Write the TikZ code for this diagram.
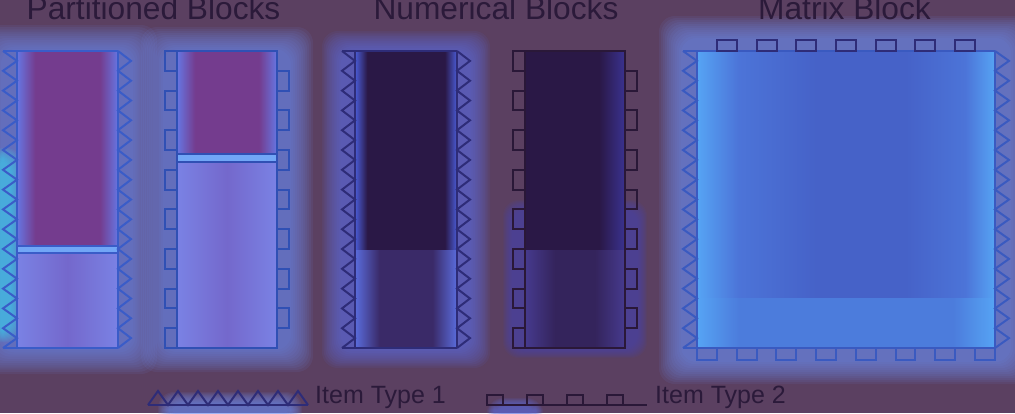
\documentclass[tikz,border=0pt]{standalone}
\usepackage{fontspec}
\setmainfont{Liberation Sans}
\definecolor{bg}{HTML}{5B4061}
\definecolor{tx}{HTML}{2B1A3A}
\definecolor{glowA}{HTML}{6E8CF0}
\definecolor{glowC}{HTML}{3FD0F0}
\definecolor{glowN}{HTML}{5A6EE0}
\definecolor{glowD}{HTML}{4A48B0}
\definecolor{glowM}{HTML}{6F90F4}
\definecolor{lineA}{HTML}{3A5CC8}
\definecolor{lineB}{HTML}{3050B4}
\definecolor{lineN}{HTML}{2E2C78}
\definecolor{lineD}{HTML}{2A1838}
\definecolor{lineM}{HTML}{3A5AC0}
\definecolor{pEdge}{HTML}{6676E2}
\definecolor{pCore}{HTML}{743C8E}
\definecolor{pLow}{HTML}{7A82E4}
\definecolor{pLowC}{HTML}{7468CC}
\definecolor{band}{HTML}{72A6F6}
\definecolor{nEdge}{HTML}{4A5CD6}
\definecolor{nCore}{HTML}{2A1846}
\definecolor{nEdgeL}{HTML}{5A6CDC}
\definecolor{nCoreL}{HTML}{3A2A68}
\definecolor{dEdge}{HTML}{3A3290}
\definecolor{dCore}{HTML}{2A1846}
\definecolor{dLow}{HTML}{463A8E}
\definecolor{dLowC}{HTML}{34245C}
\definecolor{mEdge}{HTML}{56A4F4}
\definecolor{mIn}{HTML}{4C74D8}
\definecolor{mCore}{HTML}{4662C8}
\definecolor{mLow}{HTML}{4C7CDC}
\pgfdeclarehorizontalshading{ptop}{100bp}{color(0bp)=(pEdge); color(25bp)=(pEdge); color(34bp)=(pCore); color(66bp)=(pCore); color(75bp)=(pEdge); color(100bp)=(pEdge)}
\pgfdeclarehorizontalshading{plow}{100bp}{color(0bp)=(pLow); color(25bp)=(pLow); color(50bp)=(pLowC); color(75bp)=(pLow); color(100bp)=(pLow)}
\pgfdeclarehorizontalshading{ntop}{100bp}{color(0bp)=(nEdge); color(25bp)=(nEdge); color(31bp)=(nCore); color(69bp)=(nCore); color(75bp)=(nEdge); color(100bp)=(nEdge)}
\pgfdeclarehorizontalshading{nlow}{100bp}{color(0bp)=(nEdgeL); color(25bp)=(nEdgeL); color(37bp)=(nCoreL); color(63bp)=(nCoreL); color(75bp)=(nEdgeL); color(100bp)=(nEdgeL)}
\pgfdeclarehorizontalshading{dtop}{100bp}{color(0bp)=(dCore); color(25bp)=(dCore); color(62bp)=(dCore); color(75bp)=(dEdge); color(100bp)=(dEdge)}
\pgfdeclarehorizontalshading{dlow}{100bp}{color(0bp)=(dLow); color(25bp)=(dLow); color(40bp)=(dLowC); color(60bp)=(dLowC); color(75bp)=(dLow); color(100bp)=(dLow)}
\pgfdeclarehorizontalshading{mtop}{100bp}{color(0bp)=(mEdge); color(25bp)=(mEdge); color(32bp)=(mIn); color(45bp)=(mCore); color(60bp)=(mCore); color(70bp)=(mIn); color(75bp)=(mEdge); color(100bp)=(mEdge)}
\pgfdeclarehorizontalshading{mlow}{100bp}{color(0bp)=(mEdge); color(25bp)=(mEdge); color(32bp)=(mLow); color(68bp)=(mLow); color(75bp)=(mEdge); color(100bp)=(mEdge)}
\newcommand{\glowbox}[6]{%
  \foreach \k in {1,...,12}{%
    \fill[#1, fill opacity=0.085, rounded corners=16pt]
      ({#3-#2*\k/12},{#4-#2*\k/12}) rectangle ({#5+#2*\k/12},{#6+#2*\k/12});
  }}
\newcommand{\ttlfont}{\fontsize{31.7}{36}\selectfont}
\newcommand{\lgdfont}{\fontsize{25}{30}\selectfont}
\tikzset{
  edge/.style={line width=2pt, line join=miter},
  ttl/.style={anchor=base, inner sep=0pt, font=\ttlfont, text=tx},
  lgd/.style={anchor=base west, inner sep=0pt, font=\lgdfont, text=tx}
}
\begin{document}
\begin{tikzpicture}[x=1pt,y=-1pt]
\fill[bg] (0,0) rectangle (1015,413);
\useasboundingbox (0,0) rectangle (1015,413);

% ---------- glows ----------
\glowbox{glowA}{26}{3}{51}{131}{348}
\glowbox{glowC}{12}{-4}{160}{10}{330}
\glowbox{glowA}{24}{165}{51}{289}{348}
\glowbox{glowN}{20}{342}{51}{470}{348}
\glowbox{glowD}{10}{513}{210}{637}{348}
\glowbox{glowM}{24}{683}{40}{1009}{360}
\glowbox{glowA}{12}{170}{404}{290}{416}
\glowbox{glowN}{8}{495}{406}{535}{416}

% ---------- block 1 (partitioned, type 1) ----------
\shade[shading=ptop] (17,51) rectangle (118,246);
\shade[shading=plow] (17,253) rectangle (118,348);
\fill[band] (17,246) rectangle (118,253);
\draw[edge, lineA] (3,51) -- (118,51);
\draw[edge, lineA] (3,348) -- (118,348);
\draw[edge, lineA] (17,51) -- (17,348);
\draw[edge, lineA] (118,51) -- (118,348);
\draw[edge, lineA] (17,246) -- (118,246);
\draw[edge, lineA] (17,253) -- (118,253);
\draw[edge, lineA] (3,51) \foreach \j in {1,...,15}{ -- (17,{51+19.8*\j-9.9}) -- (3,{51+19.8*\j}) };
\draw[edge, lineA] (118,51) \foreach \j in {1,...,15}{ -- (131,{51+19.8*\j-9.9}) -- (118,{51+19.8*\j}) };

% ---------- block 2 (partitioned, type 2) ----------
\shade[shading=ptop] (177,51) rectangle (277,154);
\shade[shading=plow] (177,162) rectangle (277,348);
\fill[band] (177,154) rectangle (277,162);
\draw[edge, lineB] (177,51) rectangle (277,348);
\draw[edge, lineB] (177,154) -- (277,154);
\draw[edge, lineB] (177,162) -- (277,162);
\foreach \k in {0,...,7}{\draw[edge, lineB] (165,{51+39.6*\k}) rectangle (177,{70.8+39.6*\k});}
\foreach \k in {0,...,6}{\draw[edge, lineB] (277,{70.8+39.6*\k}) rectangle (289,{90.6+39.6*\k});}

% ---------- block 3 (numerical, type 1) ----------
\shade[shading=ntop] (355,51) rectangle (457,250);
\shade[shading=nlow] (355,250) rectangle (457,348);
\draw[edge, lineN] (342,51) -- (457,51);
\draw[edge, lineN] (342,348) -- (457,348);
\draw[edge, lineN] (355,51) -- (355,348);
\draw[edge, lineN] (457,51) -- (457,348);
\draw[edge, lineN] (342,51) \foreach \j in {1,...,15}{ -- (355,{51+19.8*\j-9.9}) -- (342,{51+19.8*\j}) };
\draw[edge, lineN] (457,51) \foreach \j in {1,...,15}{ -- (470,{51+19.8*\j-9.9}) -- (457,{51+19.8*\j}) };

% ---------- block 4 (numerical, type 2) ----------
\shade[shading=dtop] (525,51) rectangle (625,250);
\shade[shading=dlow] (525,250) rectangle (625,348);
\draw[edge, lineD] (525,51) rectangle (625,348);
\foreach \k in {0,...,7}{\draw[edge, lineD] (513,{51+39.6*\k}) rectangle (525,{70.8+39.6*\k});}
\foreach \k in {0,...,6}{\draw[edge, lineD] (625,{70.8+39.6*\k}) rectangle (637,{90.6+39.6*\k});}

% ---------- block 5 (matrix) ----------
\shade[shading=mtop] (697,51) rectangle (995,298);
\shade[shading=mlow] (697,298) rectangle (995,348);
\draw[edge, lineM] (683,51) -- (995,51);
\draw[edge, lineM] (683,348) -- (995,348);
\draw[edge, lineM] (697,51) -- (697,348);
\draw[edge, lineM] (995,51) -- (995,348);
\draw[edge, lineM] (683,51) \foreach \j in {1,...,15}{ -- (697,{51+19.8*\j-9.9}) -- (683,{51+19.8*\j}) };
\draw[edge, lineM] (995,51) \foreach \j in {1,...,15}{ -- (1009,{51+19.8*\j-9.9}) -- (995,{51+19.8*\j}) };
\foreach \k in {0,...,6}{\draw[edge, lineN] ({716.9+39.7*\k},40) rectangle ({736.8+39.7*\k},51);}
\foreach \k in {0,...,7}{\draw[edge, lineM] ({697+39.7*\k},348) rectangle ({716.9+39.7*\k},360);}

% ---------- legend ----------
\draw[edge, lineN] (148,405) -- (308,405);
\draw[edge, lineN] (148,405) \foreach \j in {1,...,8}{ -- ({148+20*\j-10},391) -- ({148+20*\j},405) };
\draw[edge, lineD] (487,405) -- (647,405);
\foreach \k in {0,...,3}{\draw[edge, lineD] ({487+40*\k},395) rectangle ({503+40*\k},405);}

% ---------- texts ----------
\node[ttl] (t1) at (153.5,19) {Partitioned Blocks};
\node[ttl] (t2) at (496,19) {Numerical Blocks};
\node[ttl] (t3) at (844.5,19) {Matrix Block};
\node[lgd] (l1) at (315,403) {Item Type 1};
\node[lgd] (l2) at (655,403) {Item Type 2};
\end{tikzpicture}
\end{document}
